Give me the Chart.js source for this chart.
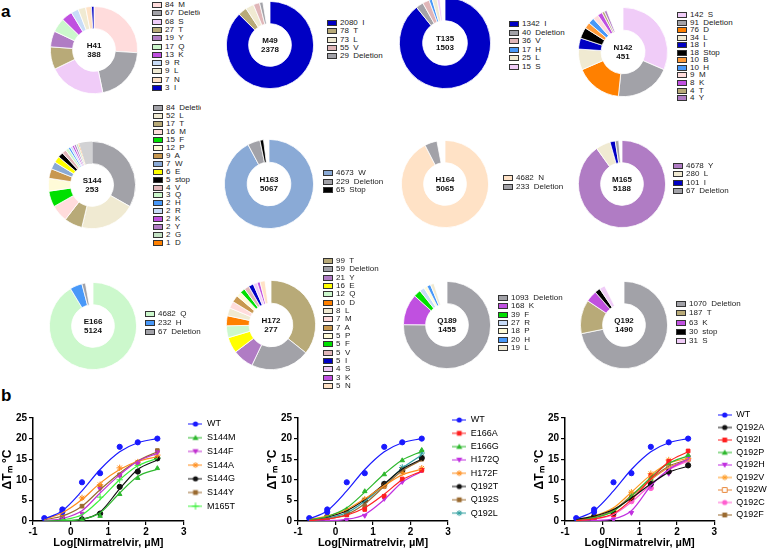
<!DOCTYPE html>
<html>
<head>
<meta charset="utf-8">
<script src="https://cdn.jsdelivr.net/npm/chart.js@4.4.1/dist/chart.umd.min.js"></script>
<style>
body { margin: 0; width: 767px; height: 550px; position: relative; background: #fff; overflow: hidden;
  font-family: "Liberation Sans", Arial, sans-serif; }
canvas { position: absolute; }
.panel { position: absolute; font: bold 17px "Liberation Sans", Arial, sans-serif; color: #000; }
.lg { position: absolute; top: 0; height: 400px; overflow: hidden; font-size: 8px; color: #222; white-space: pre; }
.lg div { position: absolute; left: 0; height: 8px; line-height: 8px; padding-left: 13px; }
.lg span { position: absolute; left: 0; top: 1px; width: 8px; height: 4px; border: 1px solid #333; }
</style>
</head>
<body>
<div class="panel" style="left:1px;top:2px">a</div>
<div class="panel" style="left:1px;top:386px">b</div>
<script>
/* panel a : mutation counts per residue */
const sites = ['H41', 'M49', 'T135', 'N142', 'S144', 'H163', 'H164', 'M165', 'E166', 'H172', 'Q189', 'Q192']
const totals = [388, 2378, 1503, 451, 253, 5067, 5065, 5188, 5124, 277, 1455, 1490]

const h41Res = ['M', 'Deletion', 'S', 'T', 'Y', 'Q', 'K', 'R', 'L', 'N', 'I']
const h41Cnt = [84, 67, 68, 27, 19, 17, 13, 9, 9, 7, 3]
const m49Res = ['I', 'T', 'L', 'V', 'Deletion']
const m49Cnt = [2080, 78, 73, 55, 29]
const t135Res = ['I', 'Deletion', 'V', 'H', 'L', 'S']
const t135Cnt = [1342, 40, 36, 17, 25, 15]
const n142Res = ['S', 'Deletion', 'D', 'L', 'I', 'Stop', 'B', 'H', 'M', 'K', 'T', 'Y']
const n142Cnt = [142, 91, 76, 34, 18, 18, 10, 10, 9, 8, 4, 4]
const s144Res = ['Deletion', 'L', 'T', 'M', 'F', 'P', 'A', 'W', 'E', 'stop', 'V', 'Q', 'H', 'R', 'K', 'Y', 'G', 'D']
const s144Cnt = [84, 52, 17, 16, 15, 12, 9, 7, 6, 5, 4, 3, 2, 2, 2, 2, 2, 1]
const h163Res = ['W', 'Deletion', 'Stop']
const h163Cnt = [4673, 229, 65]
const h164Res = ['N', 'Deletion']
const h164Cnt = [4682, 233]
const m165Res = ['Y', 'L', 'I', 'Deletion']
const m165Cnt = [4678, 280, 101, 67]
const e166Res = ['Q', 'H', 'Deletion']
const e166Cnt = [4682, 232, 67]
const h172Res = ['T', 'Deletion', 'Y', 'E', 'Q', 'D', 'L', 'M', 'A', 'P', 'F', 'V', 'I', 'S', 'K', 'N']
const h172Cnt = [99, 59, 21, 16, 12, 10, 8, 7, 7, 5, 5, 5, 5, 4, 3, 5]
const q189Res = ['Deletion', 'K', 'F', 'R', 'P', 'H', 'L']
const q189Cnt = [1093, 168, 39, 27, 18, 20, 19]
const q192Res = ['Deletion', 'T', 'K', 'stop', 'S']
const q192Cnt = [1070, 187, 63, 30, 31]

const residues = [h41Res, m49Res, t135Res, n142Res, s144Res, h163Res, h164Res, m165Res, e166Res, h172Res, q189Res, q192Res]
const counts = [h41Cnt, m49Cnt, t135Cnt, n142Cnt, s144Cnt, h163Cnt, h164Cnt, m165Cnt, e166Cnt, h172Cnt, q189Cnt, q192Cnt]

const resColor = {
	I: '#0000c4', Deletion: '#a2a2a8', M: '#ffdcdc', S: '#f0ccf8', T: '#b8aa78', Y: '#b07cc4',
	Q: '#ccf8cc', K: '#c050e0', R: '#c8dcf8', L: '#f0ead2', N: '#ffe2c6', V: '#e0b6b8',
	H: '#4898f8', D: '#ff8000', Stop: '#000000', stop: '#000000', B: '#ff9a38', W: '#8aaad6',
	F: '#00e000', P: '#fffbd8', A: '#c89850', E: '#ffff00', G: '#c4e2c4'
}

/* where each doughnut and its legend go: centre, radius, legend left, first row, row step, clip width */
const donutPos = [
	[94, 50, 43, 152, 5, 8.3, 48], [270, 45, 43, 327, 23, 8.3, 0], [445, 43, 45, 509, 24, 8.6, 0], [623, 52, 44, 677, 15, 7.55, 0],
	[92, 185, 43, 153, 108, 7.95, 48], [269, 184, 44, 323, 173, 8.6, 0], [445, 184, 43, 503, 178, 9, 0], [622, 184, 43, 673, 166, 8.3, 0],
	[93, 326, 43, 145, 314, 9, 0], [271, 325, 44, 323, 261, 8.33, 0], [447, 325, 43, 498, 298, 8.33, 0], [624, 325, 43, 676, 304, 9.3, 0]
]
// unlisted part of each total: drawn as a gap (S144 shows it as a pale grey slice, H41 has none)
const restColor = ['none', 'gap', 'gap', 'gap', '#d2d2d4', 'gap', 'gap', 'gap', 'gap', 'gap', 'gap', 'gap']

const centerText = {
	id: 'centerText',
	afterDraw(chart, args, opts) {
		const { ctx, chartArea } = chart
		const x = (chartArea.left + chartArea.right) / 2
		const y = (chartArea.top + chartArea.bottom) / 2
		ctx.save()
		ctx.font = 'bold 8px "Liberation Sans", Arial, sans-serif'
		ctx.textAlign = 'center'
		ctx.textBaseline = 'middle'
		ctx.fillStyle = '#111'
		ctx.fillText(opts.site, x, y - 4.5)
		ctx.fillText(String(opts.total), x, y + 4.5)
		ctx.restore()
	}
}

sites.forEach((site, k) => {
	const [cx, cy, r, lx, ly, step, clip] = donutPos[k]
	const cv = document.createElement('canvas')
	const size = 2 * r + 2
	cv.width = size
	cv.height = size
	cv.style.left = (cx - r - 1) + 'px'
	cv.style.top = (cy - r - 1) + 'px'
	document.body.appendChild(cv)
	const colors = residues[k].map((res) => resColor[res])
	const values = counts[k].slice()
	const fills = colors.slice()
	const edges = colors.map(() => '#ffffff')
	const rest = totals[k] - values.reduce((a, b) => a + b, 0)
	if (restColor[k] !== 'none' && rest > 0) {
		values.push(rest)
		fills.push(restColor[k] === 'gap' ? 'rgba(255,255,255,0)' : restColor[k])
		edges.push('rgba(255,255,255,0)')
	}
	new Chart(cv, {
		type: 'doughnut',
		data: {
			labels: values.map((v, i) => residues[k][i] || ''),
			datasets: [{ data: values, backgroundColor: fills, borderColor: edges, borderWidth: 0.8, hoverOffset: 0 }]
		},
		options: {
			responsive: false,
			animation: false,
			cutout: '49%',
			layout: { padding: 0 },
			events: [],
			plugins: {
				legend: { display: false },
				tooltip: { enabled: false },
				centerText: { site: site, total: totals[k] }
			}
		},
		plugins: [centerText]
	})
	// legend column beside the ring
	const lg = document.createElement('div')
	lg.className = 'lg'
	lg.style.left = lx + 'px'
	lg.style.width = (clip || 90) + 'px'
	residues[k].forEach((res, i) => {
		const row = document.createElement('div')
		row.style.top = (ly + i * step - 4) + 'px'
		const sw = document.createElement('span')
		sw.style.background = colors[i]
		row.appendChild(sw)
		row.appendChild(document.createTextNode(counts[k][i] + '  ' + res))
		lg.appendChild(row)
	})
	document.body.appendChild(lg)
})

/* panel b : thermal shift vs log[nirmatrelvir] */
const logConc = [-0.7, -0.22, 0.3, 0.78, 1.3, 1.78, 2.3]
const wtX = [-0.7, -0.22, -0.22, 0.3, 0.78, 1.3, 1.78, 2.3]
const wtPts = [0.7, 2.8, 2.2, 9.4, 11.6, 18.0, 19.1, 20.0]
const wtFit = [0.5, 2.5, 7.3, 12.5, 16.8, 19.0, 20.0]

// first panel
const set1Names = ['S144M', 'S144F', 'S144A', 'S144G', 'S144Y', 'M165T']
const set1Pts = [
	[0.3, 0.3, 1.2, 6.5, 10.4, 12.8],
	[0.7, 1.8, 7.8, 11.0, 14.0, 16.7],
	[1.5, 5.6, 8.8, 12.9, 14.3, 16.0],
	[0.3, 0.4, 1.8, 8.3, 12.0, 15.2],
	[1.0, 3.6, 8.4, 11.2, 14.2, 17.1],
	[0.5, 0.5, 5.8, 10.0, 13.5, 15.3]
]
const set1Fit = [
	[0.0, 0.1, 0.4, 2.0, 6.8, 10.8, 12.6],
	[0.1, 0.6, 2.5, 6.8, 11.2, 14.5, 16.4],
	[0.4, 2.0, 5.2, 9.2, 12.5, 14.5, 15.6],
	[0.0, 0.05, 0.4, 2.2, 7.8, 12.5, 14.8],
	[0.3, 1.2, 3.6, 7.6, 11.6, 14.6, 16.8],
	[0.0, 0.3, 1.5, 5.2, 10.0, 13.4, 15.2]
]
// second panel
const set2Names = ['E166A', 'E166G', 'H172Q', 'H172F', 'Q192T', 'Q192S', 'Q192L']
const set2Pts = [
	[0.8, 1.5, 2.8, 6.0, 10.2, 12.3],
	[1.2, 2.8, 7.2, 11.3, 14.7, 17.2],
	[0.3, 0.3, 1.3, 5.4, 9.5, 12.3],
	[1.0, 2.0, 5.3, 8.5, 11.8, 12.8],
	[1.0, 2.0, 4.9, 9.0, 12.2, 15.3],
	[0.6, 1.5, 3.6, 8.4, 12.5, 15.0],
	[0.8, 2.0, 5.0, 9.0, 13.0, 16.5]
]
const set2Fit = [
	[0.1, 0.5, 1.4, 3.2, 6.5, 10.0, 12.1],
	[0.3, 1.1, 3.2, 7.0, 11.4, 14.8, 16.9],
	[0.0, 0.1, 0.4, 1.6, 5.2, 9.4, 12.0],
	[0.4, 1.2, 2.8, 5.4, 8.6, 11.2, 12.6],
	[0.3, 1.0, 2.5, 5.2, 9.0, 12.6, 15.0],
	[0.1, 0.5, 1.6, 4.2, 8.4, 12.2, 14.8],
	[0.2, 0.7, 2.0, 4.8, 8.8, 12.8, 16.0]
]
// third panel
const set3Names = ['Q192A', 'Q192I', 'Q192P', 'Q192H', 'Q192V', 'Q192W', 'Q192C', 'Q192F']
const set3Pts = [
	[1.1, 2.0, 5.5, 9.0, 12.0, 13.5],
	[0.5, 1.5, 5.5, 11.0, 14.5, 17.0],
	[0.8, 2.2, 6.0, 10.2, 14.0, 16.0],
	[0.2, 0.4, 2.0, 8.5, 11.5, 15.5],
	[1.0, 2.5, 7.0, 11.5, 14.8, 15.2],
	[0.8, 2.0, 6.6, 10.0, 13.0, 15.0],
	[0.5, 1.5, 4.8, 8.0, 12.0, 15.0],
	[0.8, 2.3, 6.0, 10.0, 13.5, 14.8]
]
const set3Fit = [
	[0.4, 1.2, 2.8, 5.6, 9.0, 11.8, 13.3],
	[0.1, 0.5, 1.8, 5.2, 10.2, 14.4, 16.8],
	[0.2, 0.8, 2.4, 6.0, 10.6, 14.0, 15.8],
	[0.0, 0.1, 0.5, 2.5, 8.5, 12.5, 15.0],
	[0.3, 1.2, 3.2, 7.0, 11.2, 14.0, 15.2],
	[0.2, 0.8, 2.5, 6.0, 10.0, 13.0, 14.8],
	[0.1, 0.5, 1.6, 4.6, 8.8, 12.4, 14.6],
	[0.2, 0.9, 2.6, 6.2, 10.2, 13.3, 14.9]
]

// marker looks: colour, point style, rotation, hollow
const look = {
	WT: ['#1a1aff', 'circle', 0], S144M: ['#2db82d', 'triangle', 0], S144F: ['#c030d0', 'triangle', 180],
	S144A: ['#ff8c1a', 'star', 0], S144G: ['#111111', 'circle', 0], S144Y: ['#9a6a30', 'rect', 0],
	M165T: ['#3cf03c', 'cross', 0], E166A: ['#ff2020', 'rect', 0], E166G: ['#2db82d', 'triangle', 0],
	H172Q: ['#c030e0', 'triangle', 180], H172F: ['#ff8c1a', 'star', 0], Q192T: ['#111111', 'circle', 0],
	Q192S: ['#9a6a30', 'rect', 0], Q192L: ['#2a9d9d', 'star', 0], Q192A: ['#111111', 'circle', 0],
	Q192I: ['#ff2020', 'rect', 0], Q192P: ['#2db82d', 'triangle', 0], Q192H: ['#c030e0', 'triangle', 180],
	Q192V: ['#ff9a20', 'star', 0], Q192W: ['#e8873a', 'rect', 0, true], Q192C: ['#ff60d0', 'circle', 0],
	Q192F: ['#9a6a30', 'rect', 0]
}

function makeIcon(name) {
	const [color, style, rot, hollow] = look[name]
	const c = document.createElement('canvas')
	c.width = 14
	c.height = 8
	const g = c.getContext('2d')
	g.strokeStyle = color
	g.fillStyle = color
	g.lineWidth = 1
	g.beginPath()
	g.moveTo(0, 4)
	g.lineTo(14, 4)
	g.stroke()
	g.beginPath()
	if (style === 'circle') {
		g.arc(7, 4, 2.6, 0, Math.PI * 2)
	} else if (style === 'rect') {
		g.rect(4.6, 1.6, 4.8, 4.8)
	} else if (style === 'triangle') {
		const d = rot ? -1 : 1
		g.moveTo(7, 4 - 3 * d)
		g.lineTo(10, 4 + 2.2 * d)
		g.lineTo(4, 4 + 2.2 * d)
		g.closePath()
	} else if (style === 'star') {
		for (let a = 0; a < 4; a++) {
			const t = a * Math.PI / 4
			g.moveTo(7 - 3 * Math.cos(t), 4 - 3 * Math.sin(t))
			g.lineTo(7 + 3 * Math.cos(t), 4 + 3 * Math.sin(t))
		}
	} else if (style === 'cross') {
		g.moveTo(3.5, 4); g.lineTo(10.5, 4); g.moveTo(7, 0.5); g.lineTo(7, 7.5)
	}
	if (style === 'star' || style === 'cross' || hollow) {
		if (hollow) { g.fillStyle = '#fff'; g.fill() }
		g.stroke()
	} else {
		g.fill()
	}
	return c
}

function seriesSets(names, pts, fits) {
	const curves = []
	const marks = []
	const all = [['WT', wtPts, wtFit, wtX]].concat(names.map((n, i) => [n, pts[i], fits[i], logConc.slice(1)]))
	all.forEach(([name, p, f, px]) => {
		const [color, style, rot, hollow] = look[name]
		curves.push({
			label: name, isCurve: true, showLine: true,
			data: logConc.map((x, i) => ({ x: x, y: f[i] })),
			borderColor: color, borderWidth: 1.2, pointRadius: 0, cubicInterpolationMode: 'monotone'
		})
		marks.push({
			label: name, icon: makeIcon(name), showLine: false,
			data: px.map((x, i) => ({ x: x, y: p[i] })),
			pointStyle: style, rotation: rot, pointRadius: style === 'cross' || style === 'star' ? 3.2 : 2.6,
			backgroundColor: hollow ? '#ffffff' : color, borderColor: color, borderWidth: 1
		})
	})
	return curves.concat(marks)
}

// puts the first legend row where the figure has it
const legendShift = {
	id: 'legendShift',
	afterLayout(chart, args, opts) {
		if (chart.legend) chart.legend.top = opts.firstRow - 408 - opts.pad - 4.5
	}
}

const tickFont = { family: '"Liberation Sans", Arial, sans-serif', size: 10, weight: 'bold' }

function drawCurves(left, width, names, pts, fits, legendPad, firstRow) {
	const cv = document.createElement('canvas')
	cv.width = width
	cv.height = 142
	cv.style.left = left + 'px'
	cv.style.top = '408px'
	document.body.appendChild(cv)
	new Chart(cv, {
		type: 'scatter',
		data: { datasets: seriesSets(names, pts, fits) },
		options: {
			responsive: false,
			animation: false,
			events: [],
			layout: { padding: { top: 10, right: 0, left: 0, bottom: 0 } },
			scales: {
				x: {
					min: -1, max: 3,
					ticks: { stepSize: 1, color: '#000', font: tickFont, padding: 1 },
					grid: { drawOnChartArea: false, color: '#000', tickLength: 4, lineWidth: 1.2 },
					border: { color: '#000', width: 1.5 },
					title: { display: true, text: 'Log[Nirmatrelvir, µM]', color: '#000', padding: 0,
						font: { family: '"Liberation Sans", Arial, sans-serif', size: 11, weight: 'bold' } },
					afterFit(s) { s.height = 29 }
				},
				y: {
					min: 0, max: 25,
					ticks: { stepSize: 5, color: '#000', font: tickFont, padding: 2 },
					grid: { drawOnChartArea: false, color: '#000', tickLength: 4, lineWidth: 1.2 },
					border: { color: '#000', width: 1.5 },
					title: { display: true, text: 'ΔTₘ °C', color: '#000', padding: 0,
						font: { family: '"Liberation Sans", Arial, sans-serif', size: 12, weight: 'bold' } },
					afterFit(s) { s.width = 33 }
				}
			},
			plugins: {
				tooltip: { enabled: false },
				legendShift: { firstRow: firstRow, pad: legendPad },
				legend: {
					position: 'right',
					align: 'start',
					labels: {
						usePointStyle: true,
						pointStyleWidth: 14,
						padding: legendPad,
						color: '#000',
						font: { family: '"Liberation Sans", Arial, sans-serif', size: 9 },
						generateLabels(chart) {
							return chart.data.datasets.map((ds, i) => ({
								text: ds.label, pointStyle: ds.icon, datasetIndex: i, hidden: false,
								fontColor: '#000', lineWidth: 0, strokeStyle: 'rgba(0,0,0,0)', fillStyle: 'rgba(0,0,0,0)'
							})).filter((item) => !chart.data.datasets[item.datasetIndex].isCurve)
						}
					}
				}
			}
		},
		plugins: [legendShift]
	})
}

drawCurves(0, 245, set1Names, set1Pts, set1Fit, 4.7, 424)
drawCurves(265, 244, set2Names, set2Pts, set2Fit, 4.3, 420)
drawCurves(532, 243, set3Names, set3Pts, set3Fit, 3.5, 415)
</script>
</body>
</html>
